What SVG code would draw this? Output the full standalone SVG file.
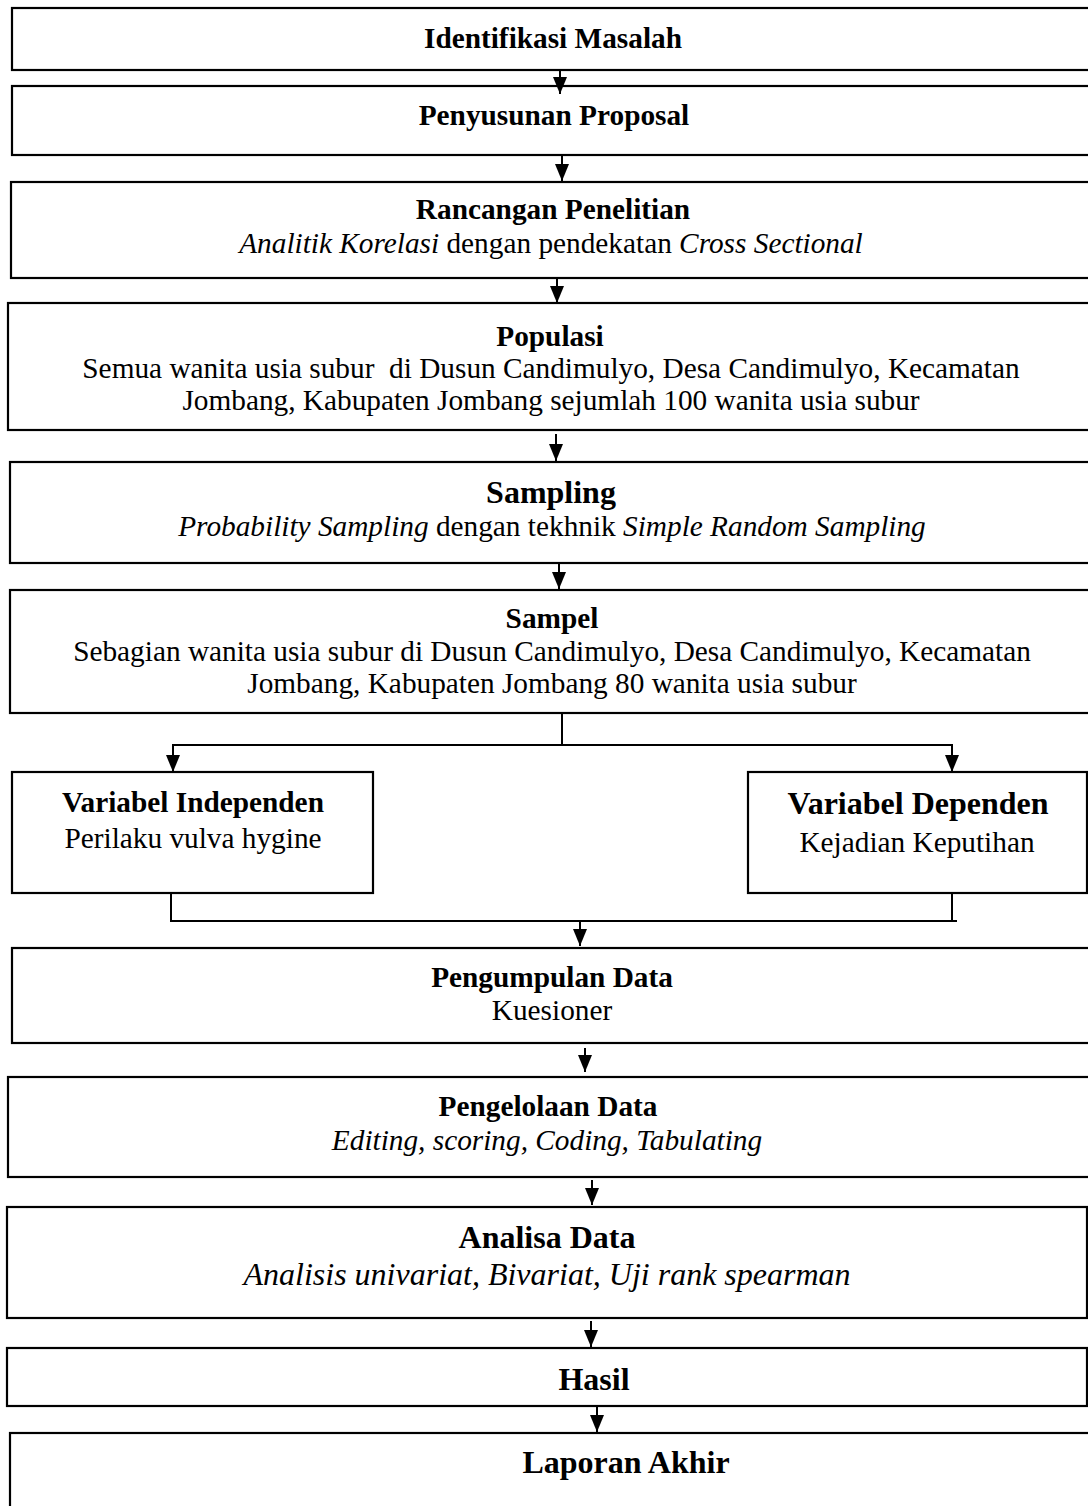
<svg xmlns="http://www.w3.org/2000/svg" width="1088" height="1506" viewBox="0 0 1088 1506">
<style>
.box{fill:#fff;stroke:#000;stroke-width:2.2}
.t{font-family:"Liberation Serif","Times New Roman",serif;fill:#000;text-anchor:middle}
.b{font-weight:bold;font-size:29.3px}
.B{font-weight:bold;font-size:32px}
.r{font-size:29.3px}
.i{font-style:italic}
.c{fill:none;stroke:#000;stroke-width:2}
</style>
<defs>
<marker id="ah" markerUnits="userSpaceOnUse" markerWidth="18" markerHeight="14" refX="17" refY="7" orient="auto" viewBox="0 0 18 14">
<path d="M0,0 L17,7 L0,14 Z" fill="#000"/>
</marker>
</defs>
<rect width="1088" height="1506" fill="#fff"/>

<g id="n1"><rect class="box" x="12" y="8" width="1080" height="62"/>
<text class="t b" x="553" y="48">Identifikasi Masalah</text></g>

<g id="n2"><rect class="box" x="12" y="86" width="1080" height="69"/>
<text class="t b" x="554" y="125">Penyusunan Proposal</text></g>

<g id="n3"><rect class="box" x="11" y="182" width="1080" height="96"/>
<text class="t b" x="553" y="219">Rancangan Penelitian</text>
<text class="t r" x="551" y="253"><tspan class="i">Analitik Korelasi</tspan> dengan pendekatan <tspan class="i">Cross Sectional</tspan></text></g>

<g id="n4"><rect class="box" x="8" y="303" width="1084" height="127"/>
<text class="t b" x="550" y="346">Populasi</text>
<text class="t r" x="551" y="378" xml:space="preserve">Semua wanita usia subur  di Dusun Candimulyo, Desa Candimulyo, Kecamatan</text>
<text class="t r" x="551" y="410">Jombang, Kabupaten Jombang sejumlah 100 wanita usia subur</text></g>

<g id="n5"><rect class="box" x="10" y="462" width="1082" height="101"/>
<text class="t B" x="551" y="503">Sampling</text>
<text class="t r" x="552" y="536"><tspan class="i">Probability Sampling</tspan> dengan tekhnik <tspan class="i">Simple Random Sampling</tspan></text></g>

<g id="n6"><rect class="box" x="10" y="590" width="1082" height="123"/>
<text class="t b" x="552" y="628">Sampel</text>
<text class="t r" x="552" y="661">Sebagian wanita usia subur di Dusun Candimulyo, Desa Candimulyo, Kecamatan</text>
<text class="t r" x="552" y="693">Jombang, Kabupaten Jombang 80 wanita usia subur</text></g>

<g id="n7"><rect class="box" x="12" y="772" width="361" height="121"/>
<text class="t b" x="193" y="812">Variabel Independen</text>
<text class="t r" x="193" y="848">Perilaku vulva hygine</text></g>

<g id="n8"><rect class="box" x="748" y="772" width="339" height="121"/>
<text class="t B" x="918" y="814">Variabel Dependen</text>
<text class="t r" x="917" y="852">Kejadian Keputihan</text></g>

<g id="n9"><rect class="box" x="12" y="948" width="1080" height="95"/>
<text class="t b" x="552" y="987">Pengumpulan Data</text>
<text class="t r" x="552" y="1020">Kuesioner</text></g>

<g id="n10"><rect class="box" x="8" y="1077" width="1084" height="100"/>
<text class="t b" x="548" y="1116">Pengelolaan Data</text>
<text class="t r i" x="547" y="1150">Editing, scoring, Coding, Tabulating</text></g>

<g id="n11"><rect class="box" x="7" y="1207" width="1080" height="111"/>
<text class="t B" x="547" y="1248">Analisa Data</text>
<text class="t i" style="font-size:32px" x="547" y="1285">Analisis univariat, Bivariat, Uji rank spearman</text></g>

<g id="n12"><rect class="box" x="7" y="1348" width="1080" height="58"/>
<text class="t B" x="594" y="1390">Hasil</text></g>

<g id="n13"><rect class="box" x="10" y="1433" width="1082" height="80"/>
<text class="t B" x="626" y="1473">Laporan Akhir</text></g>

<g id="connectors">
<line class="c" x1="560" y1="70" x2="560" y2="94" marker-end="url(#ah)"/>
<line class="c" x1="562" y1="155" x2="562" y2="181" marker-end="url(#ah)"/>
<line class="c" x1="557" y1="278" x2="557" y2="303" marker-end="url(#ah)"/>
<line class="c" x1="556" y1="434" x2="556" y2="461" marker-end="url(#ah)"/>
<line class="c" x1="559" y1="563" x2="559" y2="589" marker-end="url(#ah)"/>
<polyline class="c" points="562,713 562,745"/>
<polyline class="c" points="173,755 173,745 952,745 952,755"/>
<line class="c" x1="173" y1="750" x2="173" y2="772" marker-end="url(#ah)"/>
<line class="c" x1="952" y1="750" x2="952" y2="772" marker-end="url(#ah)"/>
<polyline class="c" points="171,893 171,921 957,921"/>
<line class="c" x1="952" y1="893" x2="952" y2="921"/>
<line class="c" x1="580" y1="921" x2="580" y2="946" marker-end="url(#ah)"/>
<line class="c" x1="585" y1="1048" x2="585" y2="1072" marker-end="url(#ah)"/>
<line class="c" x1="592" y1="1180" x2="592" y2="1205" marker-end="url(#ah)"/>
<line class="c" x1="591" y1="1321" x2="591" y2="1347" marker-end="url(#ah)"/>
<line class="c" x1="597" y1="1406" x2="597" y2="1432" marker-end="url(#ah)"/>
</g>
</svg>
